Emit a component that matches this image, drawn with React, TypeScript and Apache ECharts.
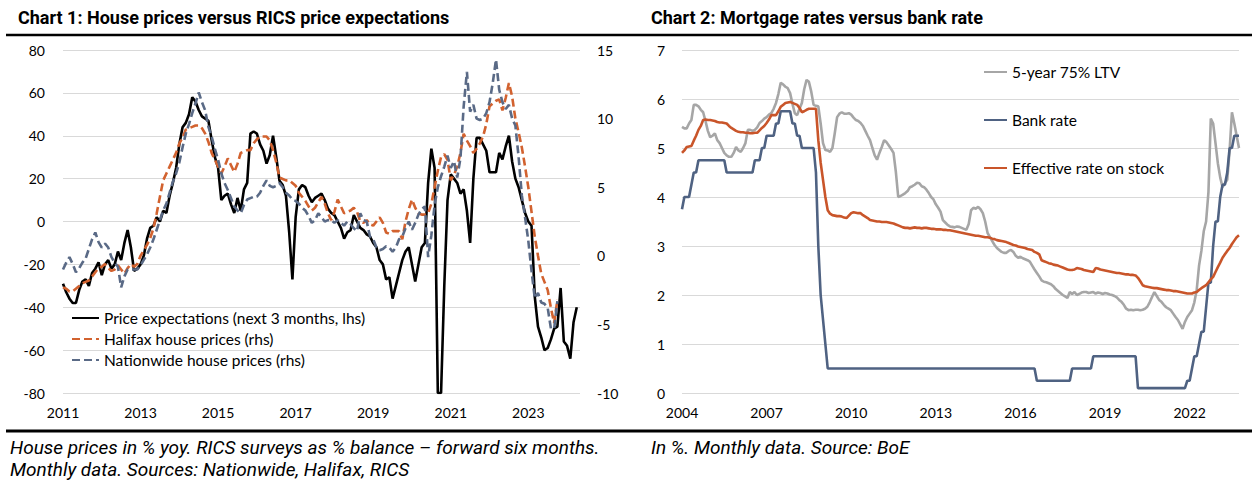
import { useEffect, useRef } from "react";
import * as echarts from "echarts";

// ---------- Texts ----------
const chart1Title = "Chart 1: House prices versus RICS price expectations";
const chart2Title = "Chart 2: Mortgage rates versus bank rate";
const chart1Note1 = "House prices in % yoy. RICS surveys as % balance \u2013 forward six months.";
const chart1Note2 = "Monthly data. Sources: Nationwide, Halifax, RICS";
const chart2Note = "In %. Monthly data. Source: BoE";

// ---------- Chart 1 (monthly from Jan 2011) ----------
const chart1XLabels = ["2011", "2013", "2015", "2017", "2019", "2021", "2023"];
const chart1LeftTicks = [-80, -60, -40, -20, 0, 20, 40, 60, 80];
const chart1RightTicks = [-10, -5, 0, 5, 10, 15];
const seriesNames1 = [
  "Price expectations (next 3 months, lhs)",
  "Halifax house prices (rhs)",
  "Nationwide house prices (rhs)",
];

// RICS price expectations, % balance (lhs), Jan 2011 - Apr 2024
const priceExpectations = [
  -29, -33, -36, -38, -38, -32, -28, -27, -30, -24, -22, -19,
  -25, -20, -18, -22, -20, -14, -18, -10, -4, -12, -23, -22,
  -20, -16, -8, -3, -2, 2, 0, 5, 4, 12, 18, 25,
  36, 44, 46, 50, 58, 56, 52, 49, 48, 47, 38, 30,
  25, 10, 12, 13, 8, 4, 11, 5, 15, 18, 41, 42,
  41, 36, 33, 27, 31, 40, 30, 19, 17, 12, -5, -27,
  2, 15, 17, 16, 12, 9, 11, 12, 13, 10, 6, 4,
  3, 0, -3, -8, -5, -4, 3, 0, -3, -4, -6, -7,
  -10, -12, -18, -20, -27, -26, -36, -30, -24, -18, -14, -12,
  -20, -28, -20, -12, -10, 18, 34, 25, -80, -80, -30, 10,
  22, 20, 18, 13, 15, 5, -10, 20, 39, 39, 36, 33,
  23, 23, 23, 32, 29, 35, 40, 28, 20, 16, 10, 4,
  0, -2, -35, -49, -54, -60, -59, -55, -50, -49, -31, -56,
  -58, -64, -47, -40,
];

// Halifax house prices, % yoy (rhs), Jan 2011 - Oct 2023
const halifax = [
  -2.3, -2.4, -2.6, -2.6, -2.4, -2.2, -2.0, -1.9, -1.8, -1.5, -1.2, -0.9,
  -0.8, -0.6, -0.9, -1.1, -1.0, -0.7, -1.0, -1.3, -0.9, -0.6, -0.8, -0.6,
  0.0, 0.4, 0.8, 1.3, 2.0, 3.1, 4.3, 5.5, 6.0, 6.5, 7.0, 7.5,
  8.2, 8.6, 9.2, 9.3, 9.4, 9.5, 9.5, 9.3, 8.9, 8.3, 7.5, 7.0,
  6.5, 6.0, 6.5, 7.1, 6.6, 6.1, 6.7, 7.5, 7.6, 7.7, 7.7, 8.2,
  8.5, 8.7, 8.7, 8.7, 8.4, 7.7, 6.8, 5.7, 5.6, 5.5, 5.5, 5.3,
  5.1, 4.6, 4.3, 4.0, 3.6, 3.3, 3.5, 3.9, 4.3, 3.8, 3.1, 2.6,
  3.2, 4.1, 3.6, 3.1, 3.2, 3.3, 3.5, 3.2, 2.5, 2.4, 2.6, 2.3,
  2.2, 2.5, 2.8, 2.4, 1.7, 1.6, 1.8, 1.8, 1.8, 1.2, 2.5, 3.4,
  4.1, 3.5, 3.1, 3.0, 3.0, 3.1, 3.8, 5.0, 6.2, 7.2, 7.4, 7.0,
  5.5, 5.9, 6.5, 7.5, 8.9, 8.4, 8.0, 7.5, 7.8, 8.2, 8.7, 9.6,
  10.9, 11.1, 11.3, 11.4, 10.6, 11.5, 12.6, 11.6, 10.0, 9.0, 7.9, 6.5,
  5.0, 3.2, 1.4, 0.0, -1.3, -1.9, -2.5, -3.8, -4.9, -3.2,
];

// Nationwide house prices, % yoy (rhs), Jan 2011 - Oct 2023
const nationwide = [
  -1.0, -0.5, -0.1, -0.6, -1.2, -0.9, -0.5, -0.2, 0.5, 1.2, 1.7, 1.0,
  0.6, 0.9, 0.6, -0.1, -0.5, -0.8, -2.3, -1.5, -1.0, -1.0, -1.0, -1.0,
  -0.7, -0.3, 0.1, 0.6, 1.2, 1.9, 2.6, 3.3, 3.8, 4.6, 5.4, 6.0,
  6.8, 7.9, 8.9, 9.6, 10.4, 11.1, 11.9, 11.2, 10.6, 9.4, 8.7, 7.8,
  7.0, 6.0, 5.3, 4.8, 4.2, 3.6, 3.3, 3.1, 3.7, 4.1, 4.2, 4.3,
  4.3, 4.6, 5.1, 5.5, 5.1, 5.0, 5.1, 5.3, 5.0, 4.6, 4.4, 4.1,
  4.0, 3.8, 3.5, 3.3, 2.9, 2.4, 2.6, 3.1, 2.8, 2.5, 2.6, 2.6,
  2.4, 2.6, 2.4, 2.2, 2.5, 2.3, 2.0, 1.8, 3.1, 2.6, 2.5, 1.4,
  1.2, 0.6, 0.4, 0.5, 0.7, 0.6, 0.3, 0.6, 1.2, 1.4, 2.0, 2.5,
  1.9, 2.4, 3.0, 3.4, 3.6, -0.1, 1.5, 3.7, 5.0, 5.8, 6.5, 7.3,
  6.4, 6.9, 5.7, 7.1, 10.9, 13.4, 10.5, 11.0, 10.0, 9.9, 10.0, 10.4,
  11.2, 12.6, 14.3, 12.1, 11.2, 10.7, 11.0, 10.0, 9.5, 7.2, 4.4, 2.8,
  1.1, -1.1, -3.1, -2.7, -3.4, -3.5, -3.8, -5.3, -5.3, -3.3,
];

// ---------- Chart 2 (monthly from Jan 2004) ----------
const chart2XLabels = ["2004", "2007", "2010", "2013", "2016", "2019", "2022"];
const chart2YTicks = [0, 1, 2, 3, 4, 5, 6, 7];
const seriesNames2 = ["5-year 75% LTV", "Bank rate", "Effective rate on stock"];

// 5-year fixed, 75% LTV mortgage rate, %, Jan 2004 - Oct 2023
const fiveYear75LTV = [
  5.43, 5.40, 5.40, 5.50, 5.57, 5.88, 5.88, 5.85, 5.78, 5.73, 5.55, 5.35,
  5.22, 5.25, 5.30, 5.16, 5.10, 5.00, 4.90, 4.85, 4.82, 4.82, 4.90, 5.02,
  4.95, 4.92, 5.00, 5.10, 5.37, 5.37, 5.35, 5.37, 5.42, 5.51, 5.55, 5.60,
  5.63, 5.68, 5.71, 5.80, 5.92, 6.10, 6.33, 6.30, 6.25, 6.22, 6.12, 5.90,
  5.71, 5.67, 5.80, 5.92, 6.20, 6.39, 6.35, 6.15, 5.88, 5.86, 5.85, 5.50,
  5.10, 4.96, 4.95, 4.92, 5.00, 5.30, 5.63, 5.70, 5.73, 5.70, 5.70, 5.71,
  5.68, 5.62, 5.57, 5.55, 5.51, 5.45, 5.35, 5.25, 5.16, 5.00, 4.85, 4.76,
  4.90, 5.02, 5.16, 5.12, 5.05, 4.98, 4.90, 4.51, 4.00, 4.02, 4.05, 4.08,
  4.12, 4.20, 4.22, 4.25, 4.29, 4.28, 4.22, 4.20, 4.15, 4.08, 4.00, 3.95,
  3.85, 3.78, 3.70, 3.53, 3.48, 3.43, 3.40, 3.39, 3.38, 3.40, 3.39, 3.37,
  3.35, 3.33, 3.45, 3.73, 3.78, 3.76, 3.80, 3.75, 3.67, 3.50, 3.27, 3.18,
  3.10, 3.02, 2.96, 2.92, 2.88, 2.86, 2.86, 2.90, 2.92, 2.88, 2.80, 2.76,
  2.78, 2.75, 2.73, 2.71, 2.68, 2.60, 2.52, 2.45, 2.38, 2.30, 2.27, 2.26,
  2.24, 2.22, 2.18, 2.12, 2.08, 2.04, 2.00, 1.97, 1.94, 2.06, 2.02, 2.06,
  2.00, 2.02, 2.05, 2.06, 2.06, 2.04, 2.05, 2.06, 2.03, 2.05, 2.04, 2.02,
  2.04, 2.03, 2.01, 2.00, 1.98, 1.95, 1.90, 1.86, 1.80, 1.72, 1.69, 1.70,
  1.69, 1.70, 1.70, 1.69, 1.70, 1.72, 1.76, 1.85, 1.96, 2.06, 1.98, 1.90,
  1.86, 1.80, 1.75, 1.72, 1.69, 1.62, 1.55, 1.49, 1.40, 1.31, 1.45, 1.55,
  1.62, 1.69, 1.85, 2.10, 2.60, 2.90, 3.30, 3.50, 4.10, 5.60, 5.50, 5.10,
  4.69, 4.40, 4.20, 4.28, 4.35, 4.95, 5.73, 5.50, 5.25, 5.00,
];

// Bank rate, %, Jan 2004 - Oct 2023
const bankRate = [
  3.75, 4.0, 4.0, 4.0, 4.25, 4.5, 4.5, 4.75, 4.75, 4.75, 4.75, 4.75,
  4.75, 4.75, 4.75, 4.75, 4.75, 4.75, 4.75, 4.5, 4.5, 4.5, 4.5, 4.5,
  4.5, 4.5, 4.5, 4.5, 4.5, 4.5, 4.5, 4.75, 4.75, 4.75, 5.0, 5.0,
  5.25, 5.25, 5.25, 5.25, 5.5, 5.5, 5.75, 5.75, 5.75, 5.75, 5.75, 5.5,
  5.5, 5.25, 5.25, 5.0, 5.0, 5.0, 5.0, 5.0, 5.0, 4.5, 3.0, 2.0,
  1.5, 1.0, 0.5, 0.5, 0.5, 0.5, 0.5, 0.5, 0.5, 0.5, 0.5, 0.5,
  0.5, 0.5, 0.5, 0.5, 0.5, 0.5, 0.5, 0.5, 0.5, 0.5, 0.5, 0.5,
  0.5, 0.5, 0.5, 0.5, 0.5, 0.5, 0.5, 0.5, 0.5, 0.5, 0.5, 0.5,
  0.5, 0.5, 0.5, 0.5, 0.5, 0.5, 0.5, 0.5, 0.5, 0.5, 0.5, 0.5,
  0.5, 0.5, 0.5, 0.5, 0.5, 0.5, 0.5, 0.5, 0.5, 0.5, 0.5, 0.5,
  0.5, 0.5, 0.5, 0.5, 0.5, 0.5, 0.5, 0.5, 0.5, 0.5, 0.5, 0.5,
  0.5, 0.5, 0.5, 0.5, 0.5, 0.5, 0.5, 0.5, 0.5, 0.5, 0.5, 0.5,
  0.5, 0.5, 0.5, 0.5, 0.5, 0.5, 0.5, 0.25, 0.25, 0.25, 0.25, 0.25,
  0.25, 0.25, 0.25, 0.25, 0.25, 0.25, 0.25, 0.25, 0.25, 0.25, 0.5, 0.5,
  0.5, 0.5, 0.5, 0.5, 0.5, 0.5, 0.5, 0.75, 0.75, 0.75, 0.75, 0.75,
  0.75, 0.75, 0.75, 0.75, 0.75, 0.75, 0.75, 0.75, 0.75, 0.75, 0.75, 0.75,
  0.75, 0.75, 0.1, 0.1, 0.1, 0.1, 0.1, 0.1, 0.1, 0.1, 0.1, 0.1,
  0.1, 0.1, 0.1, 0.1, 0.1, 0.1, 0.1, 0.1, 0.1, 0.1, 0.1, 0.25,
  0.25, 0.5, 0.75, 0.75, 1.0, 1.25, 1.25, 1.75, 2.25, 2.25, 3.0, 3.5,
  3.5, 4.0, 4.25, 4.25, 4.5, 5.0, 5.0, 5.25, 5.25, 5.25,
];

// Effective interest rate on the stock of mortgages, %, Jan 2004 - Oct 2023
const effectiveRate = [
  4.90, 4.95, 5.02, 5.03, 5.04, 5.15, 5.25, 5.37, 5.45, 5.57, 5.58, 5.57,
  5.57, 5.56, 5.55, 5.53, 5.52, 5.52, 5.51, 5.50, 5.45, 5.41, 5.38, 5.35,
  5.33, 5.32, 5.32, 5.31, 5.31, 5.30, 5.30, 5.31, 5.31, 5.36, 5.41, 5.45,
  5.51, 5.58, 5.67, 5.67, 5.67, 5.75, 5.84, 5.88, 5.92, 5.93, 5.94, 5.92,
  5.90, 5.88, 5.82, 5.73, 5.75, 5.78, 5.80, 5.80, 5.80, 5.80, 5.16, 4.70,
  4.35, 4.00, 3.73, 3.66, 3.63, 3.62, 3.61, 3.61, 3.60, 3.58, 3.57, 3.62,
  3.67, 3.69, 3.68, 3.67, 3.67, 3.63, 3.60, 3.57, 3.53, 3.52, 3.51, 3.50,
  3.50, 3.49, 3.49, 3.49, 3.48, 3.47, 3.46, 3.44, 3.42, 3.40, 3.38, 3.37,
  3.37, 3.36, 3.37, 3.38, 3.37, 3.37, 3.36, 3.37, 3.37, 3.36, 3.35, 3.35,
  3.34, 3.34, 3.34, 3.33, 3.33, 3.32, 3.32, 3.31, 3.30, 3.29, 3.28, 3.27,
  3.26, 3.25, 3.24, 3.23, 3.22, 3.21, 3.21, 3.20, 3.19, 3.18, 3.18, 3.17,
  3.15, 3.14, 3.12, 3.11, 3.10, 3.09, 3.08, 3.06, 3.04, 3.02, 3.01, 2.99,
  2.98, 2.97, 2.96, 2.94, 2.93, 2.92, 2.88, 2.86, 2.83, 2.71, 2.69, 2.67,
  2.65, 2.64, 2.62, 2.61, 2.60, 2.58, 2.56, 2.54, 2.52, 2.51, 2.51, 2.52,
  2.55, 2.54, 2.53, 2.51, 2.50, 2.49, 2.48, 2.47, 2.55, 2.54, 2.52, 2.51,
  2.50, 2.49, 2.48, 2.47, 2.46, 2.45, 2.45, 2.44, 2.43, 2.42, 2.42, 2.41,
  2.41, 2.40, 2.35, 2.28, 2.20, 2.18, 2.17, 2.16, 2.15, 2.14, 2.14, 2.13,
  2.12, 2.11, 2.10, 2.10, 2.09, 2.08, 2.08, 2.07, 2.06, 2.05, 2.04, 2.03,
  2.03, 2.03, 2.05, 2.06, 2.10, 2.14, 2.17, 2.20, 2.26, 2.32, 2.37, 2.47,
  2.57, 2.66, 2.76, 2.83, 2.90, 2.96, 3.04, 3.11, 3.18, 3.22,
];

// ---------- Styling ----------
const AXIS_FONT = "Lato";
const BLACK = "#000000";
const HALIFAX_COLOR = "#D2622F";
const NATIONWIDE_COLOR = "#5A6A86";
const LTV_COLOR = "#A6A6A6";
const BANK_COLOR = "#4F6282";
const EFFECTIVE_COLOR = "#C9552A";
const GRID_COLOR = "#D9D9D9";
const DASH = [8, 4];

const toPairs = (arr: number[]) => arr.map((v, i) => [i, v]);

export default function App() {
  const ref = useRef<HTMLDivElement>(null);

  useEffect(() => {
    if (!ref.current) return;
    const chart = echarts.init(ref.current, undefined, { renderer: "svg" });

    const axisLabelStyle = { color: "#000", fontFamily: AXIS_FONT, fontSize: 14 };
    const legendText = { fontFamily: AXIS_FONT, fontSize: 15.5, color: "#000" };
    const noteStyle = {
      fontFamily: "Roboto",
      fontStyle: "italic",
      fontSize: 19,
      fill: "#000",
      verticalAlign: "middle",
    };

    const option: any = {
      animation: false,
      backgroundColor: "#ffffff",
      title: [
        {
          text: chart1Title,
          left: 18,
          top: 8,
          padding: 0,
          textStyle: { fontFamily: "Roboto", fontWeight: "bold", fontSize: 18, color: "#000" },
        },
        {
          text: chart2Title,
          left: 651,
          top: 8,
          padding: 0,
          textStyle: { fontFamily: "Roboto", fontWeight: "bold", fontSize: 18, color: "#000" },
        },
      ],
      legend: [
        {
          data: seriesNames1,
          orient: "vertical",
          left: 71,
          top: 310,
          itemWidth: 27,
          itemHeight: 14,
          itemGap: 5,
          padding: 0,
          selectedMode: false,
          itemStyle: { opacity: 0 },
          textStyle: legendText,
        },
        {
          data: seriesNames2,
          orient: "vertical",
          left: 983,
          top: 64,
          itemWidth: 23,
          itemHeight: 14,
          itemGap: 32,
          padding: 0,
          selectedMode: false,
          itemStyle: { opacity: 0 },
          textStyle: legendText,
        },
      ],
      grid: [
        { left: 63, top: 50, width: 517, height: 343 },
        { left: 682, top: 50, width: 557, height: 343 },
      ],
      xAxis: [
        {
          type: "value",
          gridIndex: 0,
          min: 0,
          max: 160,
          interval: 24,
          axisLine: { show: false },
          axisTick: { show: false },
          splitLine: { show: false },
          axisLabel: {
            ...axisLabelStyle,
            margin: 12,
            showMaxLabel: false,
            formatter: (v: number) => (v % 24 === 0 ? chart1XLabels[v / 24] ?? "" : ""),
          },
        },
        {
          type: "value",
          gridIndex: 1,
          min: 0,
          max: 237,
          interval: 36,
          axisLine: { show: false },
          axisTick: { show: false },
          splitLine: { show: false },
          axisLabel: {
            ...axisLabelStyle,
            margin: 12,
            showMaxLabel: false,
            formatter: (v: number) => (v % 36 === 0 ? chart2XLabels[v / 36] ?? "" : ""),
          },
        },
      ],
      yAxis: [
        {
          type: "value",
          gridIndex: 0,
          position: "left",
          min: chart1LeftTicks[0],
          max: chart1LeftTicks[chart1LeftTicks.length - 1],
          interval: 20,
          axisLine: { show: false },
          axisTick: { show: false },
          axisLabel: { ...axisLabelStyle, margin: 18 },
          splitLine: { show: true, lineStyle: { color: GRID_COLOR, width: 1 } },
        },
        {
          type: "value",
          gridIndex: 0,
          position: "right",
          min: chart1RightTicks[0],
          max: chart1RightTicks[chart1RightTicks.length - 1],
          interval: 5,
          axisLine: { show: false },
          axisTick: { show: false },
          axisLabel: { ...axisLabelStyle, margin: 17 },
          splitLine: { show: false },
        },
        {
          type: "value",
          gridIndex: 1,
          min: chart2YTicks[0],
          max: chart2YTicks[chart2YTicks.length - 1],
          interval: 1,
          axisLine: { show: false },
          axisTick: { show: false },
          axisLabel: { ...axisLabelStyle, margin: 17 },
          splitLine: { show: true, lineStyle: { color: GRID_COLOR, width: 1 } },
        },
      ],
      series: [
        {
          name: seriesNames1[0],
          type: "line",
          xAxisIndex: 0,
          yAxisIndex: 0,
          data: toPairs(priceExpectations),
          symbol: "none",
          lineStyle: { color: BLACK, width: 2.6 },
          itemStyle: { color: BLACK },
        },
        {
          name: seriesNames1[1],
          type: "line",
          xAxisIndex: 0,
          yAxisIndex: 1,
          data: toPairs(halifax),
          symbol: "none",
          lineStyle: { color: HALIFAX_COLOR, width: 2.6, type: DASH },
          itemStyle: { color: HALIFAX_COLOR },
        },
        {
          name: seriesNames1[2],
          type: "line",
          xAxisIndex: 0,
          yAxisIndex: 1,
          data: toPairs(nationwide),
          symbol: "none",
          lineStyle: { color: NATIONWIDE_COLOR, width: 2.6, type: DASH },
          itemStyle: { color: NATIONWIDE_COLOR },
        },
        {
          name: seriesNames2[0],
          type: "line",
          xAxisIndex: 1,
          yAxisIndex: 2,
          data: toPairs(fiveYear75LTV),
          symbol: "none",
          lineStyle: { color: LTV_COLOR, width: 2.6 },
          itemStyle: { color: LTV_COLOR },
        },
        {
          name: seriesNames2[1],
          type: "line",
          xAxisIndex: 1,
          yAxisIndex: 2,
          data: toPairs(bankRate),
          symbol: "none",
          lineStyle: { color: BANK_COLOR, width: 2.6 },
          itemStyle: { color: BANK_COLOR },
        },
        {
          name: seriesNames2[2],
          type: "line",
          xAxisIndex: 1,
          yAxisIndex: 2,
          data: toPairs(effectiveRate),
          symbol: "none",
          lineStyle: { color: EFFECTIVE_COLOR, width: 2.6 },
          itemStyle: { color: EFFECTIVE_COLOR },
        },
      ],
      graphic: [
        {
          type: "line",
          shape: { x1: 6, y1: 35, x2: 1252, y2: 35 },
          style: { stroke: "#000", lineWidth: 2.5 },
        },
        {
          type: "line",
          shape: { x1: 6, y1: 431, x2: 1252, y2: 431 },
          style: { stroke: "#000", lineWidth: 3 },
        },
        { type: "text", x: 10, y: 447, style: { ...noteStyle, text: chart1Note1 } },
        { type: "text", x: 10, y: 469, style: { ...noteStyle, text: chart1Note2 } },
        { type: "text", x: 651, y: 447, style: { ...noteStyle, text: chart2Note } },
      ],
    };

    chart.setOption(option);
    return () => {
      chart.dispose();
    };
  }, []);

  return (
    <div
      ref={ref}
      style={{ position: "absolute", left: 0, top: 0, width: 1252, height: 488, background: "#fff" }}
    />
  );
}
